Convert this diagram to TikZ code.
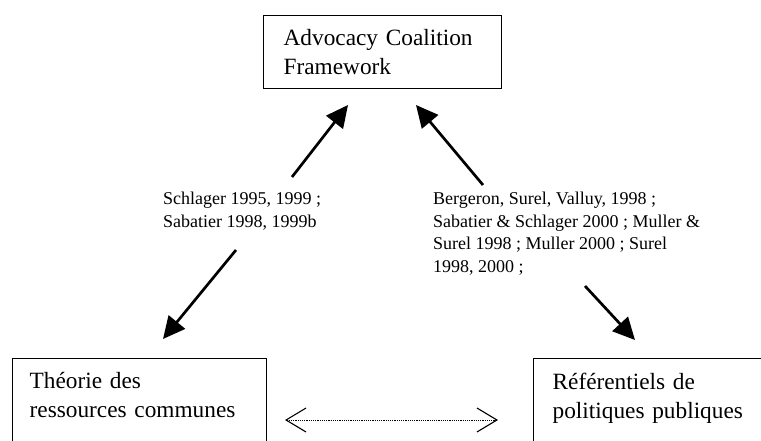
\documentclass[tikz,border=0pt]{standalone}
\usepackage{fontspec}
\setmainfont{Liberation Serif}
\usepackage{tikz}
\usetikzlibrary{arrows.meta}
\tikzstyle{tbox}=[rectangle,draw=black,line width=1.3pt,anchor=north west,align=left,
                  font=\fontsize{23.3}{29}\selectfont]
\tikzstyle{refs}=[anchor=north west,align=left,inner sep=0pt,font=\fontsize{18}{22.7}\selectfont]
\tikzstyle{arrow}=[-{Triangle[length=22pt,width=21pt]},line width=2.7pt]
\tikzstyle{dotarrow}=[{Straight Barb[length=20pt,width=24pt,line width=1.1pt]}-{Straight Barb[length=20pt,width=24pt,line width=1.1pt]},
                  dash pattern=on 1.1pt off 1.1pt,line width=0.9pt]

\begin{document}
\begin{tikzpicture}[x=1pt,y=-1pt]
      \useasboundingbox (0,0) rectangle (761,441);
      \clip (0,0) rectangle (761,441);
      \node[tbox,inner xsep=20pt,text width=198pt,minimum height=73pt] (acf) at (263,15) {Advocacy Coalition\\Framework};
      \node[tbox,inner xsep=17pt,inner ysep=14pt,text width=220pt,text depth=80pt] (trc) at (12,358) {Théorie des\\ressources communes};
      \node[tbox,inner xsep=19pt,inner ysep=14pt,text width=216pt,text depth=80pt] (rpp) at (533,358) {Référentiels de\\politiques publiques};
      \node[refs] (lref) at (163,191.7) {Schlager 1995, 1999 ;\\Sabatier 1998, 1999b};
      \node[refs] (rref) at (433,191.7) {Bergeron, Surel, Valluy, 1998 ;\\Sabatier \& Schlager 2000 ; Muller \&\\Surel 1998 ; Muller 2000 ; Surel\\1998, 2000 ;};
      \coordinate (lu0) at (292,177);
      \coordinate (lu1) at (348,105);
      \coordinate (ld0) at (236,250);
      \coordinate (ld1) at (163,339);
      \coordinate (ru0) at (483,185);
      \coordinate (ru1) at (416,105);
      \coordinate (rd0) at (585,286);
      \coordinate (rd1) at (635,340);
      \coordinate (dl) at (285,420);
      \coordinate (dr) at (498,420);
      \draw[arrow] (lu0)--(lu1);
      \draw[arrow] (ld0)--(ld1);
      \draw[arrow] (ru0)--(ru1);
      \draw[arrow] (rd0)--(rd1);
      \draw[dotarrow] (dl)--(dr);
    \end{tikzpicture}
\end{document}
